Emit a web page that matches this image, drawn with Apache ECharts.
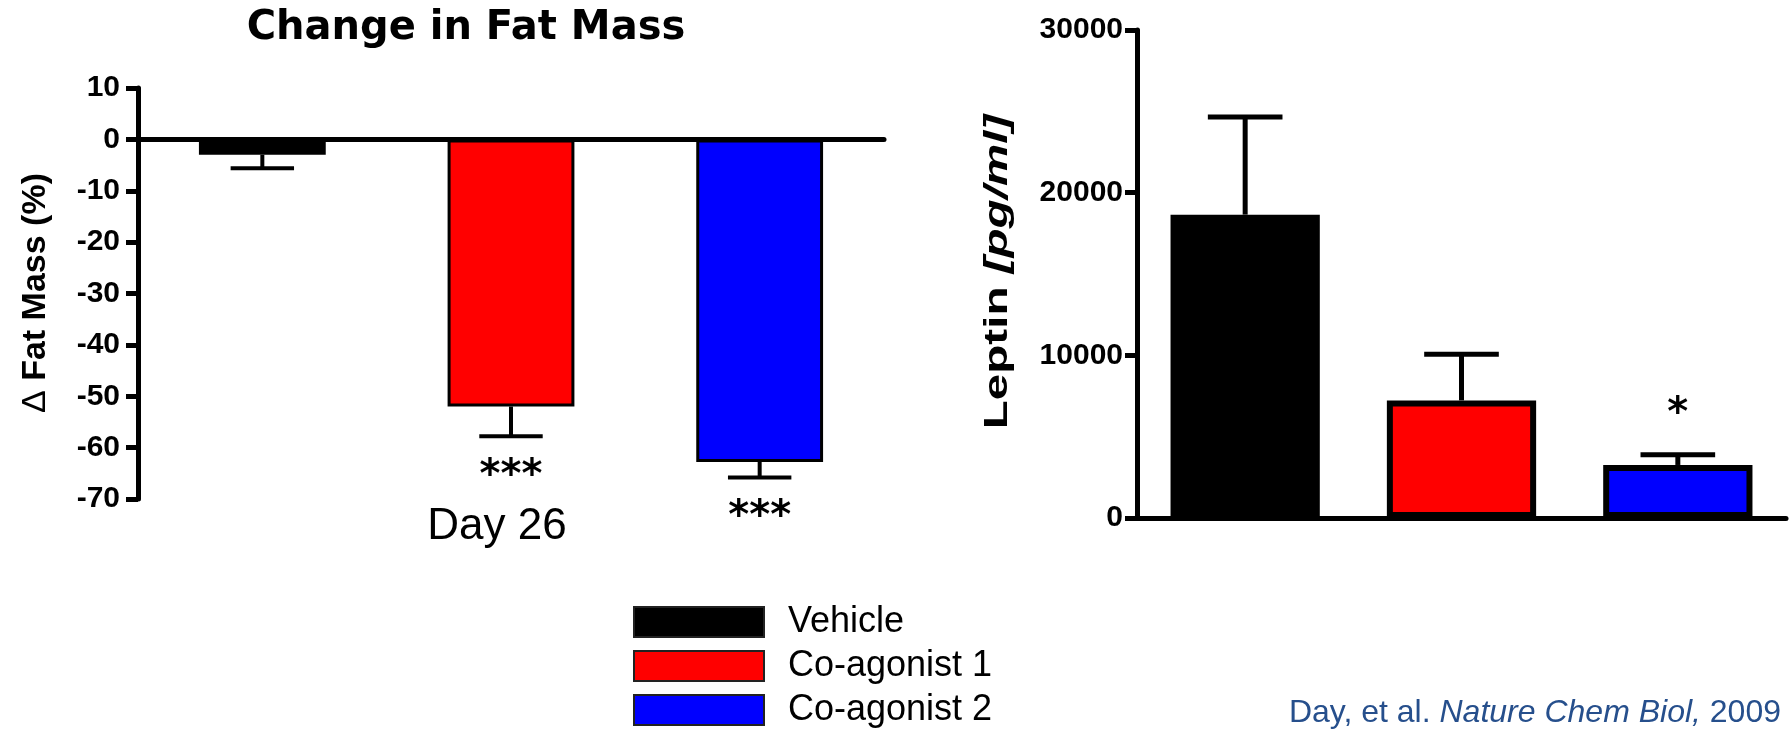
<!DOCTYPE html>
<html>
<head>
<meta charset="utf-8">
<title>Change in Fat Mass and Leptin</title>
<script src="https://cdn.jsdelivr.net/npm/echarts@6/dist/echarts.min.js"></script>
<style>
  html, body { margin: 0; padding: 0; background: #fff; }
  #chart { width: 1790px; height: 730px; }
</style>
</head>
<body>
<div id="chart"></div>
<script>
// Treatment groups and their colours
const categories = ['Vehicle', 'Co-agonist 1', 'Co-agonist 2'];
const barColors = ['#000000', '#ff0000', '#0000ff'];

// Change in fat mass at day 26 (%), mean and SEM
const fatMassChange = [-3, -52, -62.8];
const fatMassSem = [2.6, 5.8, 3.0];
const fatMassSig = ['', '***', '***'];
const fatMassTicks = [-70, -60, -50, -40, -30, -20, -10, 0, 10];

// Plasma leptin (pg/ml), mean and SEM
const leptinLevel = [18650, 7230, 3260];
const leptinSem = [6000, 2840, 630];
const leptinSig = ['', '', '*'];
const leptinTicks = [0, 10000, 20000, 30000];

const PLAIN = 'Liberation Sans';

function valueAxis(gridIndex, ticks, labelMargin) {
  return {
    type: 'value',
    gridIndex,
    min: ticks[0],
    max: ticks[ticks.length - 1],
    interval: ticks[1] - ticks[0],
    axisLine: { show: true, lineStyle: { color: '#000', width: 5 } },
    axisTick: { show: true, inside: false, length: 12, lineStyle: { color: '#000', width: 5 } },
    axisLabel: {
      color: '#000', fontFamily: PLAIN, fontWeight: 'bold', fontSize: 30, margin: labelMargin,
      formatter: (v) => String(v)
    },
    splitLine: { show: false }
  };
}

function categoryAxis(gridIndex) {
  return {
    type: 'category',
    gridIndex,
    data: categories,
    axisLine: { show: true, onZero: true, lineStyle: { color: '#000', width: 5 } },
    axisTick: { show: false },
    axisLabel: { show: false },
    splitLine: { show: false }
  };
}

function barSeries(gridIndex, values, barWidth, borderWidth) {
  return categories.map((name, k) => ({
    type: 'bar',
    name,
    xAxisIndex: gridIndex,
    yAxisIndex: gridIndex,
    data: values.map((v, j) => (j === k ? v : '-')),
    barWidth,
    barGap: '-100%',
    itemStyle: { color: barColors[k], borderColor: '#000', borderWidth },
    z: 2
  }));
}

// One-sided SEM whiskers drawn away from zero, with significance marks beyond them
function errorSeries(gridIndex, values, sems, sigs, barFrac, lineWidth) {
  return {
    type: 'custom',
    xAxisIndex: gridIndex,
    yAxisIndex: gridIndex,
    data: values.map((v, i) => [i, v, sems[i]]),
    z: 5,
    silent: true,
    renderItem(params, api) {
      const i = api.value(0);
      const v = api.value(1);
      const e = api.value(2);
      const dir = v < 0 ? -1 : 1;
      const p0 = api.coord([i, v]);
      const p1 = api.coord([i, v + dir * e]);
      const half = api.size([1, 0])[0] * barFrac * 0.25;
      const children = [
        { type: 'line', shape: { x1: p0[0], y1: p0[1], x2: p1[0], y2: p1[1] },
          style: { stroke: '#000', lineWidth } },
        { type: 'line', shape: { x1: p1[0] - half, y1: p1[1], x2: p1[0] + half, y2: p1[1] },
          style: { stroke: '#000', lineWidth } }
      ];
      const sig = sigs[params.dataIndex];
      if (sig) {
        children.push({
          type: 'text', x: p1[0], y: p1[1] - dir * 40,
          style: {
            text: sig, fill: '#000', align: 'center', verticalAlign: 'middle',
            font: 'bold 40px "DejaVu Sans"'
          }
        });
      }
      return { type: 'group', children };
    }
  };
}

const chart = echarts.init(document.getElementById('chart'), null, { renderer: 'canvas' });

chart.setOption({
  backgroundColor: '#ffffff',
  animation: false,
  grid: [
    { left: 138, top: 88, width: 746, height: 411 },
    { left: 1137, top: 30, width: 649, height: 488 }
  ],
  xAxis: [categoryAxis(0), categoryAxis(1)],
  yAxis: [valueAxis(0, fatMassTicks, 18), valueAxis(1, leptinTicks, 14)],
  legend: {
    data: categories,
    orient: 'vertical',
    left: 633,
    top: 604,
    height: 400,
    padding: 0,
    itemWidth: 130,
    itemHeight: 30,
    itemGap: 8,
    icon: 'rect',
    selectedMode: false,
    itemStyle: { borderColor: '#222', borderWidth: 2 },
    textStyle: {
      color: '#000', fontFamily: PLAIN, fontSize: 36, lineHeight: 30, padding: [0, 0, 0, 19]
    }
  },
  graphic: [
    {
      type: 'text', x: 466, y: 29,
      style: {
        text: 'Change in Fat Mass', fill: '#000', align: 'center', verticalAlign: 'middle',
        font: 'bold 40px "DejaVu Sans"'
      }
    },
    {
      type: 'text', x: 36, y: 293, rotation: Math.PI / 2,
      style: {
        text: '{d|\u0394 }{b|Fat Mass (%)}', align: 'center', verticalAlign: 'middle',
        rich: {
          d: { fill: '#000', fontFamily: PLAIN, fontSize: 34 },
          b: { fill: '#000', fontFamily: PLAIN, fontWeight: 'bold', fontSize: 34 }
        }
      }
    },
    {
      type: 'text', x: 998, y: 272, rotation: Math.PI / 2, scaleX: 1.4,
      style: {
        text: '{b|Leptin }{i|[pg/ml]}', align: 'center', verticalAlign: 'middle',
        rich: {
          b: { fill: '#000', fontFamily: PLAIN, fontWeight: 'bold', fontSize: 34 },
          i: { fill: '#000', fontFamily: PLAIN, fontWeight: 'bold', fontStyle: 'italic', fontSize: 34 }
        }
      }
    },
    {
      type: 'text', x: 497, y: 527,
      style: {
        text: 'Day 26', fill: '#000', align: 'center', verticalAlign: 'middle',
        font: '44px "Liberation Sans"'
      }
    },
    {
      type: 'text', x: 1781, y: 713,
      style: {
        text: '{a|Day, et al. }{b|Nature Chem Biol,}{a| 2009}',
        align: 'right', verticalAlign: 'middle',
        rich: {
          a: { fill: '#264f8c', fontFamily: PLAIN, fontSize: 32 },
          b: { fill: '#264f8c', fontFamily: PLAIN, fontSize: 32, fontStyle: 'italic' }
        }
      }
    }
  ],
  series: [
    ...barSeries(0, fatMassChange, '51%', 3),
    errorSeries(0, fatMassChange, fatMassSem, fatMassSig, 0.51, 4),
    ...barSeries(1, leptinLevel, '69%', 6),
    errorSeries(1, leptinLevel, leptinSem, leptinSig, 0.69, 5)
  ]
});
</script>
</body>
</html>
